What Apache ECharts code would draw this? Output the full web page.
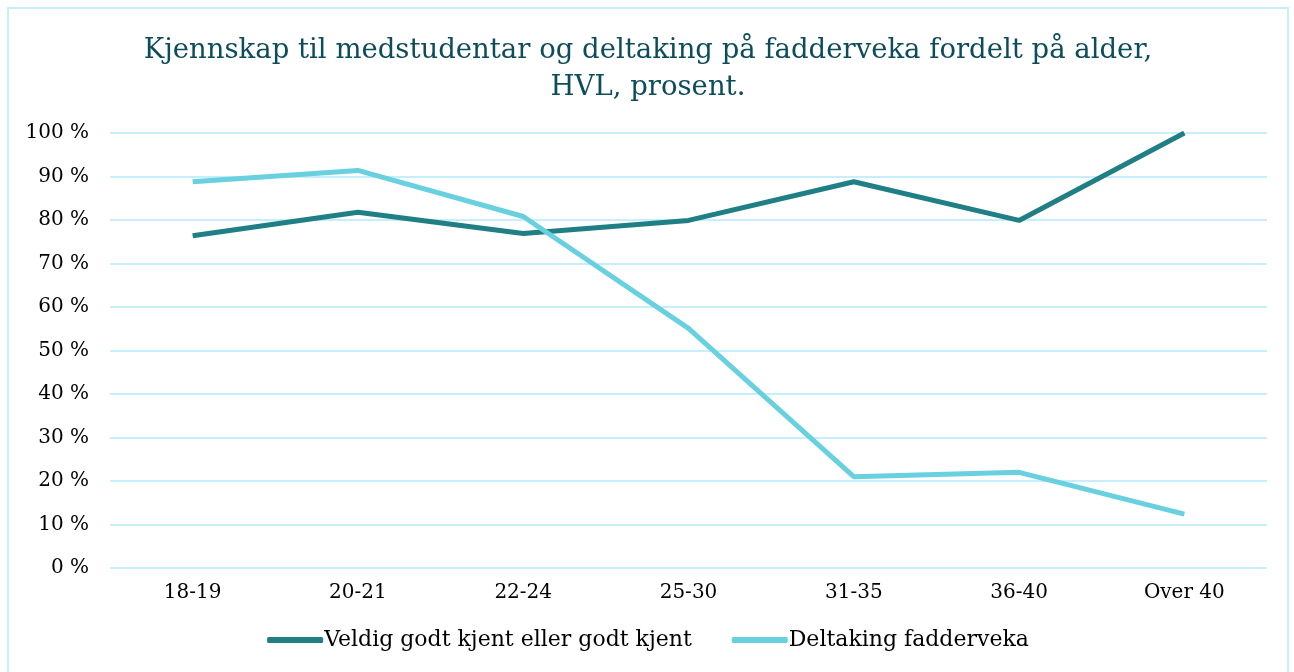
<!DOCTYPE html>
<html lang="nb">
<head>
    <meta charset="UTF-8">
    <title>Kjennskap til medstudentar</title>
    <script src="https://cdn.jsdelivr.net/npm/echarts@6/dist/echarts.min.js"></script>
    <style>
        html, body { margin: 0; padding: 0; background: #fff; }
        #main { position: absolute; left: 7px; top: 7px; width: 1282px; height: 670px;
                box-sizing: border-box; border: 2px solid #c7effb; border-bottom: none; }
    </style>
</head>
<body>
<div id="main"></div>
<script>
    var categories = ['18-19', '20-21', '22-24', '25-30', '31-35', '36-40', 'Over 40'];
    var kjent = [76.4, 81.8, 76.9, 79.9, 88.8, 79.9, 100];
    var fadderveka = [88.8, 91.4, 80.8, 55.1, 21.0, 22.0, 12.4];
    var seriesNames = ['Veldig godt kjent eller godt kjent', 'Deltaking fadderveka'];
    var titleLines = ['Kjennskap til medstudentar og deltaking på fadderveka fordelt på alder,', 'HVL, prosent.'];

    var font = 'DejaVu Serif';
    var titleStyle = { fontFamily: font, fontSize: 27.5, fontWeight: 'normal', color: '#0d4c5b' };
    var chart = echarts.init(document.getElementById('main'));
    chart.setOption({
        animation: false,
        title: [
            { text: titleLines[0], left: 'center', top: 23, textStyle: titleStyle },
            { text: titleLines[1], left: 'center', top: 60, textStyle: titleStyle }
        ],
        legend: {
            bottom: 21,
            left: 'center',
            itemWidth: 56,
            itemHeight: 6,
            itemGap: 40,
            icon: 'roundRect',
            textStyle: { fontFamily: font, fontSize: 22, color: '#000', padding: [0, 0, 0, -4] },
            data: seriesNames
        },
        grid: { left: 101, right: 20, top: 124, bottom: 109, containLabel: false },
        xAxis: {
            type: 'category',
            data: categories,
            axisLine: { show: false },
            axisTick: { show: false },
            axisLabel: { fontFamily: font, fontSize: 20, color: '#000', margin: 15 }
        },
        yAxis: {
            type: 'value',
            min: 0, max: 100, interval: 10,
            axisLabel: { fontFamily: font, fontSize: 20, color: '#000', margin: 21, formatter: '{value} %' },
            splitLine: { lineStyle: { color: '#c7effb', width: 2 } }
        },
        series: [
            { name: seriesNames[0], type: 'line', data: kjent, symbol: 'none',
              lineStyle: { color: '#1f7f84', width: 5 }, itemStyle: { color: '#1f7f84' } },
            { name: seriesNames[1], type: 'line', data: fadderveka, symbol: 'none',
              lineStyle: { color: '#68d0de', width: 5 }, itemStyle: { color: '#68d0de' } }
        ]
    });
</script>
</body>
</html>
